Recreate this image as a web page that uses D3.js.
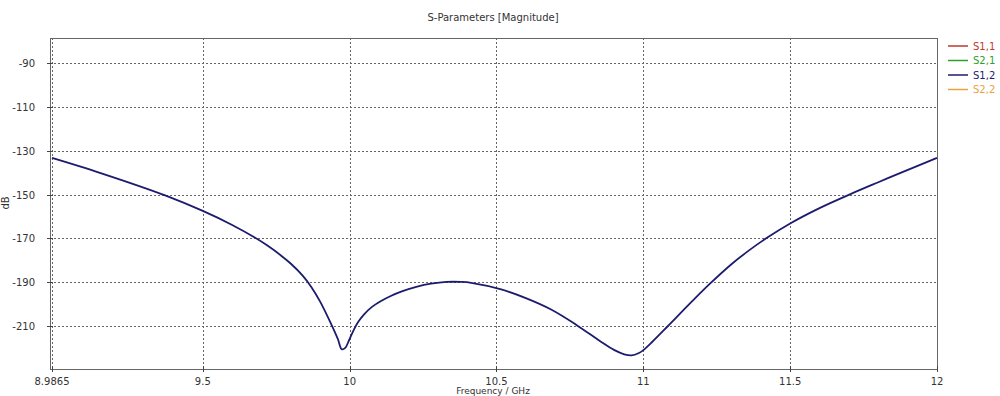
<!DOCTYPE html>
<html>
<head>
<meta charset="utf-8">
<script src="https://cdn.jsdelivr.net/npm/d3@7"></script>
<style>
  body { margin: 0; background: #fff; }
  svg { display: block; font-family: "DejaVu Sans", Verdana, sans-serif; }
</style>
</head>
<body>
<div id="chart"></div>
<script>
// S1,2 magnitude (GHz, dB)
var freqs = [8.9865, 9.152, 9.374, 9.5, 9.6, 9.674, 9.72, 9.766, 9.8, 9.84, 9.87, 9.9, 9.936, 9.96, 9.973, 9.985, 9.998,
    10.015, 10.03, 10.05, 10.075, 10.107, 10.14, 10.18, 10.23, 10.277, 10.33, 10.38, 10.414, 10.516, 10.6,
    10.686, 10.772, 10.857, 10.9, 10.935, 10.96, 10.985, 11.0, 11.03, 11.084, 11.164, 11.226, 11.3, 11.36,
    11.425, 11.5, 11.6, 11.709, 11.8, 11.88, 12];
var s12 = [-133.3, -140.2, -150.5, -157.5, -163.9, -169.4, -173.3, -177.8, -181.6, -187, -192.3, -199, -208.8, -216, -220.6, -220, -216.5,
    -211.5, -208, -204.6, -201.4, -198.6, -196.3, -194.1, -192, -190.7, -189.9, -189.9, -190.3, -193.3, -197.3,
    -202.5, -209.5, -217.3, -220.9, -222.9, -223.4, -222.3, -221, -217.3, -210, -199, -190.8, -181.8, -175.5,
    -169.4, -163.2, -156.2, -149.6, -144.4, -139.9, -133.3];

var xTicks = [8.9865, 9.5, 10, 10.5, 11, 11.5, 12];
var yTicks = [-90, -110, -130, -150, -170, -190, -210];
var legendNames = ["S1,1", "S2,1", "S1,2", "S2,2"];
var legendColors = ["#c0392b", "#2ca02c", "#1c1c6e", "#e8a33d"];

var width = 1000, height = 396;
var plotLeft = 50, plotRight = 937, plotTop = 38, plotBottom = 369;

var svg = d3.select("#chart").append("svg")
    .attr("width", width)
    .attr("height", height);

var x = d3.scaleLinear().domain([8.9865, 12]).range([52, plotRight]);
var y = d3.scaleLinear().domain([-90, -210]).range([63, 326]);

// grid
svg.selectAll(".vgrid")
    .data(xTicks)
    .join("line")
    .attr("class", "vgrid")
    .attr("x1", d => Math.round(x(d)) + 0.5)
    .attr("x2", d => Math.round(x(d)) + 0.5)
    .attr("y1", plotTop)
    .attr("y2", plotBottom)
    .attr("stroke", "#666")
    .attr("stroke-width", 1)
    .style("stroke-dasharray", "2,2");

svg.selectAll(".hgrid")
    .data(yTicks)
    .join("line")
    .attr("class", "hgrid")
    .attr("x1", plotLeft)
    .attr("x2", plotRight)
    .attr("y1", d => Math.round(y(d)) + 0.5)
    .attr("y2", d => Math.round(y(d)) + 0.5)
    .attr("stroke", "#666")
    .attr("stroke-width", 1)
    .style("stroke-dasharray", "2,2");

// frame
svg.append("rect")
    .attr("x", plotLeft + 0.5)
    .attr("y", plotTop + 0.5)
    .attr("width", plotRight - plotLeft)
    .attr("height", plotBottom - plotTop)
    .attr("fill", "none")
    .attr("stroke", "#666")
    .attr("stroke-width", 1);

// tick marks
svg.selectAll(".ytick")
    .data(yTicks)
    .join("line")
    .attr("x1", plotLeft - 3)
    .attr("x2", plotLeft + 3)
    .attr("y1", d => Math.round(y(d)) + 0.5)
    .attr("y2", d => Math.round(y(d)) + 0.5)
    .attr("stroke", "#444");

svg.selectAll(".xtick")
    .data(xTicks)
    .join("line")
    .attr("x1", d => Math.round(x(d)) + 0.5)
    .attr("x2", d => Math.round(x(d)) + 0.5)
    .attr("y1", plotBottom - 3)
    .attr("y2", plotBottom + 3)
    .attr("stroke", "#444");

// tick labels
svg.selectAll(".ylabel")
    .data(yTicks)
    .join("text")
    .attr("x", 35)
    .attr("y", d => y(d) + 4)
    .attr("text-anchor", "end")
    .attr("font-size", 10)
    .attr("fill", "#333")
    .text(d => d);

svg.selectAll(".xlabel")
    .data(xTicks)
    .join("text")
    .attr("x", d => x(d))
    .attr("y", 385)
    .attr("text-anchor", "middle")
    .attr("font-size", 10)
    .attr("fill", "#333")
    .text(d => d);

// titles
svg.append("text")
    .attr("x", 493)
    .attr("y", 21)
    .attr("text-anchor", "middle")
    .attr("font-size", 10)
    .attr("fill", "#333")
    .text("S-Parameters [Magnitude]");

svg.append("text")
    .attr("x", 493)
    .attr("y", 394)
    .attr("text-anchor", "middle")
    .attr("font-size", 9)
    .attr("fill", "#333")
    .text("Frequency / GHz");

svg.append("text")
    .attr("transform", "translate(9,203) rotate(-90)")
    .attr("text-anchor", "middle")
    .attr("font-size", 10)
    .attr("fill", "#333")
    .text("dB");

// curve
var data = freqs.map((f, i) => ({ f: f, v: s12[i] }));
var line = d3.line()
    .x(d => x(d.f))
    .y(d => y(d.v))
    .curve(d3.curveCatmullRom.alpha(0.5));

svg.append("path")
    .datum(data)
    .attr("d", line)
    .attr("fill", "none")
    .attr("stroke", "#1c1c6e")
    .attr("stroke-width", 1.8);

// legend
var legend = svg.selectAll(".legend")
    .data(legendNames)
    .join("g")
    .attr("transform", (d, i) => "translate(948," + (46 + i * 14.5) + ")");

legend.append("line")
    .attr("x1", 0)
    .attr("x2", 20)
    .attr("stroke", (d, i) => legendColors[i])
    .attr("stroke-width", 1.5);

legend.append("text")
    .attr("x", 25)
    .attr("y", 3.5)
    .attr("font-size", 10)
    .attr("fill", (d, i) => legendColors[i])
    .text(d => d);
</script>
</body>
</html>
